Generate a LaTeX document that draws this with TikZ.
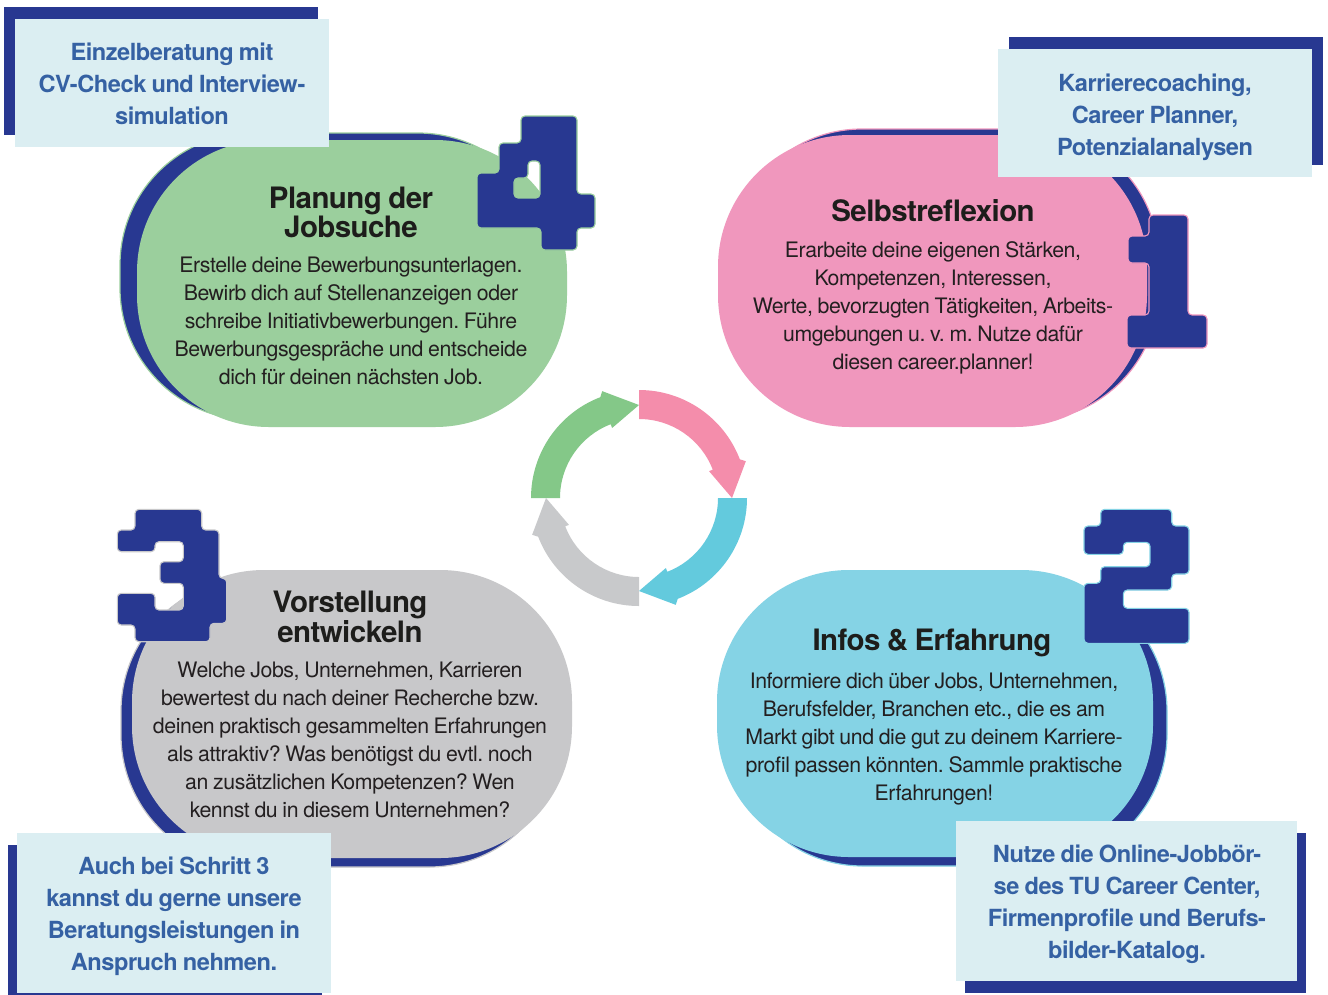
\documentclass[tikz,border=0pt]{standalone}
\usepackage{fontspec}
\setmainfont{TeX Gyre Heros}[LetterSpace=-2.0, WordSpace=0.85]
\definecolor{navy}{HTML}{283891}
\definecolor{gblob}{HTML}{9BCF9D}
\definecolor{pblob}{HTML}{F097BD}
\definecolor{yblob}{HTML}{C8C8CA}
\definecolor{cblob}{HTML}{85D3E5}
\definecolor{callfill}{HTML}{DBEEF2}
\definecolor{calltext}{HTML}{3561A3}
\definecolor{garrow}{HTML}{84C888}
\definecolor{parrow}{HTML}{F48DAB}
\definecolor{carrow}{HTML}{63CADD}
\definecolor{yarrow}{HTML}{C8C9CB}
\definecolor{bodytext}{HTML}{231F20}
\definecolor{titletext}{HTML}{1D1D1B}
\newcommand{\cyclearrow}[2]{%
  \pgfmathsetmacro\arrEnd{#2-90}%
  \pgfmathsetmacro\arrHa{#2-69}%
  \pgfmathsetmacro\arrHb{#2-71}%
  \fill[#1] (#2:108pt) arc[start angle=#2, end angle=\arrHa, radius=108pt]
    -- (\arrHb:113pt) -- (\arrEnd:93pt) -- (\arrHa:75pt) -- (\arrHa:79pt)
    arc[start angle=\arrHa, end angle=#2, radius=79pt] -- cycle;}
\begin{document}
\frenchspacing
\begin{tikzpicture}[x=1pt,y=-1pt,
  blob/.style={rectangle, inner sep=0pt, rounded corners=132pt},
  shadowblob/.style={blob, fill=navy, line width=1.2pt},
  digit/.style={fill=navy, line width=1.1pt, rounded corners=4pt, even odd rule},
  calloutbox/.style={rectangle, inner sep=0pt, fill=callfill},
  calloutback/.style={rectangle, inner sep=0pt, fill=navy},
  callouttext/.style={align=center, text=calltext, inner sep=0pt,
    font=\fontsize{23.6}{32}\selectfont\bfseries},
  titlestyle/.style={align=center, text=titletext, inner sep=0pt,
    font=\fontsize{29.5}{27}\selectfont\bfseries},
  bodystyle/.style={align=center, text=bodytext, inner sep=0pt,
    font=\fontsize{21.3}{28}\selectfont},
]
\useasboundingbox (0,0) rectangle (1328,994);
\fill[white] (0,0) rectangle (1328,994);

% ---- blobs with shadows ----
\node[shadowblob, draw=gblob, minimum width=430pt, minimum height=287pt] (gsh) at (335,276.5) {};
\node[blob, fill=gblob, minimum width=430pt, minimum height=287pt] (gb) at (352,283.5) {};
\node[shadowblob, draw=pblob, minimum width=429pt, minimum height=292pt] (psh) at (944.5,275) {};
\node[blob, fill=pblob, minimum width=429pt, minimum height=292pt] (pb) at (932.5,281) {};
\node[shadowblob, draw=yblob, minimum width=440pt, minimum height=288pt] (ysh) at (341,723) {};
\node[blob, fill=yblob, minimum width=440pt, minimum height=288pt] (yb) at (352,714) {};
\node[shadowblob, draw=cblob, minimum width=436pt, minimum height=287pt] (csh) at (949,722.5) {};
\node[blob, fill=cblob, minimum width=436pt, minimum height=287pt] (cb) at (935,713.5) {};

% ---- digits ----
% 4
\draw[digit, draw=gblob] (521,116) -- (577,116) -- (577,194) -- (595,194) -- (595,228) -- (577,228)
  -- (577,250) -- (541,250) -- (541,228) -- (477,228) -- (477,173) -- (499,173) -- (499,143) -- (521,143) -- cycle
  (528,161) -- (540,161) -- (540,198) -- (514,198) -- (514,178) -- (528,178) -- cycle;
% 1
\draw[digit, draw=pblob] (1149,215) -- (1188,215) -- (1188,315) -- (1207,315) -- (1207,348) -- (1127,348)
  -- (1127,315) -- (1149,315) -- (1149,263) -- (1128,263) -- (1128,236) -- (1149,236) -- cycle;
% 2
\draw[digit, draw=cblob] (1100.7,509.3) -- (1171.7,509.3) -- (1171.7,526) -- (1189,526) -- (1189,574)
  -- (1171.7,574) -- (1171.7,590) -- (1123.3,590) -- (1123.3,608.3) -- (1189,608.3) -- (1189,643.3)
  -- (1084,643.3) -- (1084,583.3) -- (1100.7,583.3) -- (1100.7,566.7) -- (1150,566.7) -- (1150,542.3)
  -- (1123.3,542.3) -- (1123.3,554.3) -- (1084,554.3) -- (1084,526) -- (1100.7,526) -- cycle;
% 3
\draw[digit, draw=yblob] (135,509.3) -- (201.7,509.3) -- (201.7,530) -- (219,530) -- (219,578.3)
  -- (226.7,578.3) -- (226.7,623.3) -- (210,623.3) -- (210,641.7) -- (135,641.7) -- (135,625)
  -- (117.3,625) -- (117.3,593.3) -- (155,593.3) -- (155,610) -- (183.3,610) -- (183.3,583.3)
  -- (160,583.3) -- (160,561.7) -- (183.3,561.7) -- (183.3,541.7) -- (155,541.7) -- (155,551.7)
  -- (117.3,551.7) -- (117.3,530) -- (135,530) -- cycle;

% ---- blob texts ----
\node[titlestyle] (gt) at (351,212.5) {Planung der\\Jobsuche};
\node[bodystyle] (gx) at (351,321) {Erstelle deine Bewerbungsunterlagen.\\Bewirb dich auf Stellenanzeigen oder\\schreibe Initiativbewerbungen. Führe\\Bewerbungsgespräche und entscheide\\dich für deinen nächsten Job.};
\node[titlestyle] (pt) at (933,211) {Selbstreflexion};
\node[bodystyle] (px) at (933,308) {Erarbeite deine eigenen Stärken,\\Kompetenzen, Interessen,\\Werte, bevorzugten Tätigkeiten, Arbeits-\\umgebungen u. v. m. Nutze dafür\\diesen career.planner!};
\node[titlestyle] (yt) at (350,617) {Vorstellung\\entwickeln};
\node[bodystyle] (yx) at (350,740) {Welche Jobs, Unternehmen, Karrieren\\bewertest du nach deiner Recherche bzw.\\deinen praktisch gesammelten Erfahrungen\\als attraktiv? Was benötigst du evtl. noch\\an zusätzlichen Kompetenzen? Wen\\kennst du in diesem Unternehmen?};
\node[titlestyle] (ct) at (932,643) {Infos \& Erfahrung};
\node[bodystyle] (cx) at (934,739) {Informiere dich über Jobs, Unternehmen,\\Berufsfelder, Branchen etc., die es am\\Markt gibt und die gut zu deinem Karriere-\\profil passen könnten. Sammle praktische\\Erfahrungen!};

% ---- callouts ----
\node[calloutback, minimum width=314pt, minimum height=128pt] (k1b) at (161,71) {};
\node[calloutbox, minimum width=314pt, minimum height=128pt] (k1) at (172,83) {};
\node[callouttext] (k1t) at (172,84) {Einzelberatung mit\\CV-Check und Interview-\\simulation};

\node[calloutback, minimum width=314pt, minimum height=128pt] (k2b) at (1166,101) {};
\node[calloutbox, minimum width=314pt, minimum height=128pt] (k2) at (1155,113) {};
\node[callouttext] (k2t) at (1155,117) {Karrierecoaching,\\Career Planner,\\Potenzialanalysen};

\node[calloutback, minimum width=314pt, minimum height=160pt] (k3b) at (165,925) {};
\node[calloutbox, minimum width=314pt, minimum height=160pt] (k3) at (174,913) {};
\node[callouttext] (k3t) at (174,916) {Auch bei Schritt 3\\kannst du gerne unsere\\Beratungsleistungen in\\Anspruch nehmen.};

\node[calloutback, minimum width=341pt, minimum height=160pt] (k4b) at (1135.5,913) {};
\node[calloutbox, minimum width=341pt, minimum height=160pt] (k4) at (1126.5,901) {};
\node[callouttext] (k4t) at (1127,904) {Nutze die Online-Jobbör-\\se des TU Career Center,\\Firmenprofile und Berufs-\\bilder-Katalog.};

% ---- cycle arrows ----
\begin{scope}[shift={(639,498)}]
  \cyclearrow{parrow}{90}
  \cyclearrow{carrow}{0}
  \cyclearrow{yarrow}{-90}
  \cyclearrow{garrow}{180}
\end{scope}
\end{tikzpicture}
\end{document}
